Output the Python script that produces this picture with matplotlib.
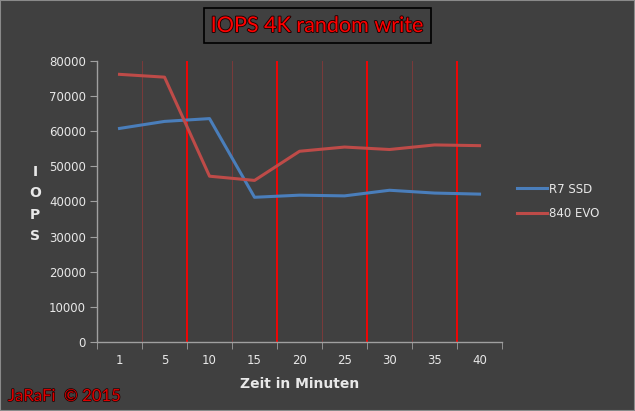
import matplotlib
matplotlib.use("Agg")
import matplotlib.pyplot as plt
import matplotlib.patheffects as pe
from matplotlib.patches import Rectangle

categories = ["1", "5", "10", "15", "20", "25", "30", "35", "40"]
r7_ssd = [60800, 62800, 63600, 41200, 41800, 41600, 43200, 42400, 42100]
evo_840 = [76200, 75400, 47200, 46000, 54300, 55500, 54800, 56100, 55900]
yticks = [0, 10000, 20000, 30000, 40000, 50000, 60000, 70000, 80000]

bg = "#404040"
fg = "#e8e8e8"
W, H = 635, 411

fig = plt.figure(figsize=(6.35, 4.11), dpi=100, facecolor=bg)
ax = fig.add_axes([0.1528, 0.1679, 0.6378, 0.6837], facecolor=bg)

x = list(range(len(categories)))
ax.plot(x, r7_ssd, color="#4a7ebb", lw=2.2, label="R7 SSD", zorder=3)
ax.plot(x, evo_840, color="#be4b48", lw=2.2, label="840 EVO", zorder=3)

# category boundaries: alternating bright red and faint lines
for i in range(len(categories)):
    b = i + 0.5
    if i % 2 == 1:
        ax.axvline(b, color="#ff0000", lw=1.3, zorder=2)
    else:
        ax.axvline(b, color="#7a3a3a", lw=0.7, zorder=2)

ax.set_xlim(-0.5, len(categories) - 0.5)
ax.set_ylim(0, 80000)
ax.set_yticks(yticks)
ax.set_yticklabels([str(v) for v in yticks])
ax.set_xticks(x)
ax.set_xticklabels(categories)
ax.set_xticks([i - 0.5 for i in range(len(categories) + 1)], minor=True)
ax.tick_params(axis="x", which="major", length=0, colors=fg, labelsize=8.5, pad=9)
ax.tick_params(axis="x", which="minor", length=5, color="#a0a0a0")
ax.tick_params(axis="y", length=5, color="#a0a0a0", labelcolor=fg, labelsize=8.5, pad=3)

for side in ["top", "right"]:
    ax.spines[side].set_visible(False)
for side in ["left", "bottom"]:
    ax.spines[side].set_color("#a0a0a0")
    ax.spines[side].set_linewidth(1)

leg = ax.legend(loc="center left", bbox_to_anchor=(1.01, 0.5), frameon=False,
                fontsize=8.5, handlelength=2.6, handletextpad=0.1, labelspacing=1.0)
for t in leg.get_texts():
    t.set_color(fg)

ax.set_xlabel("Zeit in Minuten", color=fg, fontsize=10, fontweight="bold", labelpad=7)
fig.text(35 / W, 1 - 204 / H, "I\nO\nP\nS", color=fg, fontsize=10, fontweight="bold",
         ha="center", va="center", linespacing=1.65)

# title in a black-edged box
fig.patches.append(Rectangle((204 / W, 1 - 43 / H), 227 / W, 35 / H, transform=fig.transFigure,
                             facecolor=bg, edgecolor="black", lw=1.2))
title = fig.text(317 / W, 1 - 26 / H, "IOPS 4K random write", color="#ff0000",
                 fontsize=15.5, family="Lato", ha="center", va="center")
title.set_path_effects([pe.withStroke(linewidth=1.3, foreground="#200000")])

sign = fig.text(8 / W, 1 - 396 / H, "JaRaFi  \u00a9 2015", color="#e00000",
                fontsize=12, family="Lato", ha="left", va="center")
sign.set_path_effects([pe.withStroke(linewidth=1.0, foreground="#200000")])

fig.patches.append(Rectangle((0, 0), 1, 1, transform=fig.transFigure, fill=False,
                             edgecolor="#8a8a8a", lw=1.5))

fig.savefig("out.png", dpi=100, facecolor=bg)
